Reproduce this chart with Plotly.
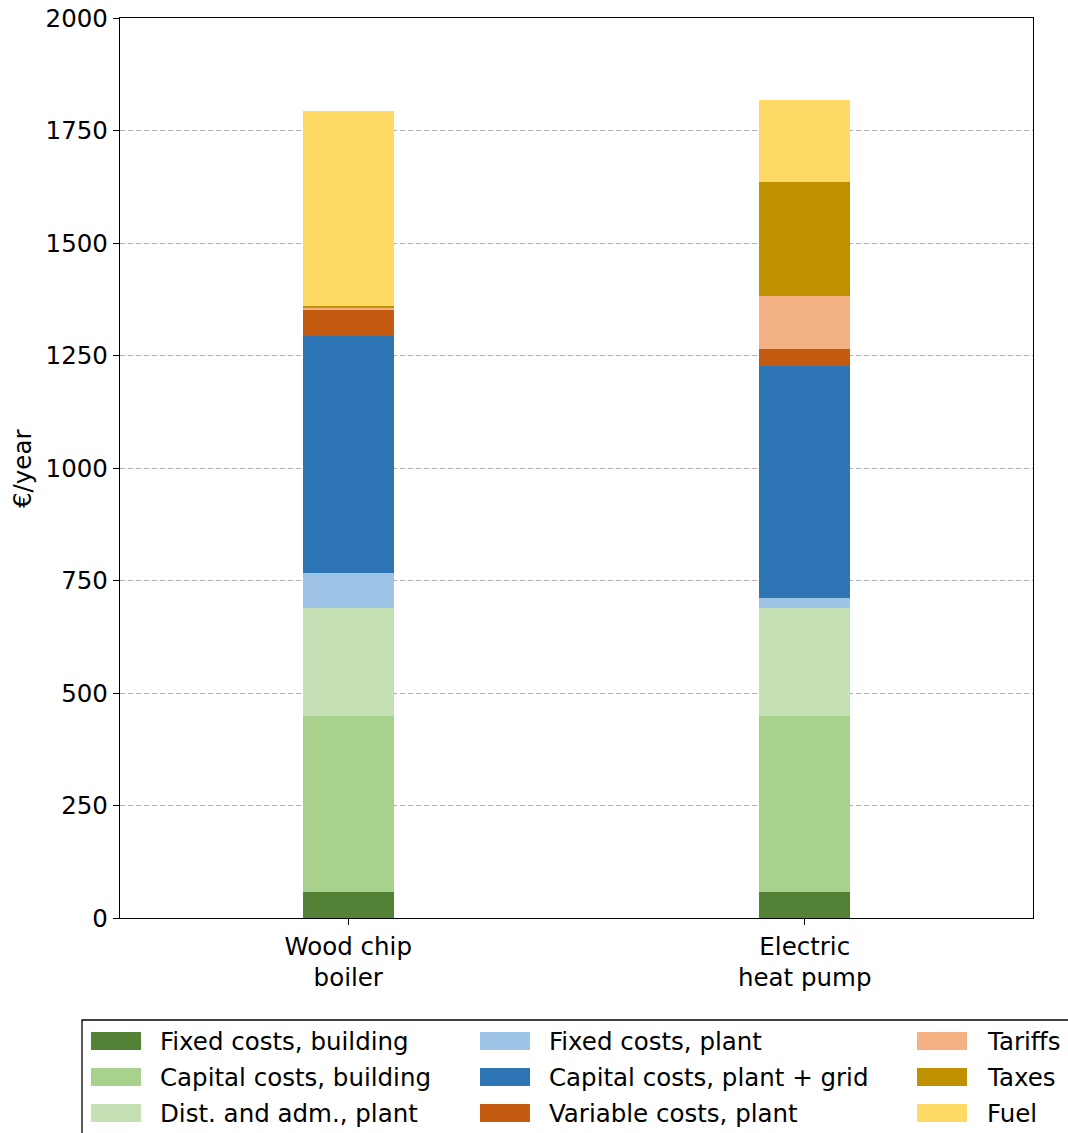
import plotly.graph_objects as go

categories = ["Wood chip<br>boiler", "Electric<br>heat pump"]

series_names = [
    "Fixed costs, building",
    "Capital costs, building",
    "Dist. and adm., plant",
    "Fixed costs, plant",
    "Capital costs, plant + grid",
    "Variable costs, plant",
    "Tariffs",
    "Taxes",
    "Fuel",
]
fixed_building = [58, 58]
capital_building = [391, 391]
dist_adm = [240, 240]
fixed_plant = [78, 22]
capital_plant = [527, 516]
variable_plant = [59, 37]
tariffs = [2, 118]
taxes = [5, 254]
fuel = [433, 182]
series_values = [fixed_building, capital_building, dist_adm, fixed_plant,
                 capital_plant, variable_plant, tariffs, taxes, fuel]
colors = ["#538135", "#a9d18e", "#c5e0b4", "#9dc3e6", "#2e75b6",
          "#c55a11", "#f4b183", "#bf9000", "#ffd966"]

y_ticks = [0, 250, 500, 750, 1000, 1250, 1500, 1750, 2000]

W, H = 1068, 1133
L, R, T, B = 120, 35, 18, 215
PW, PH = W - L - R, H - T - B
FONT = "DejaVu Sans"
FS = 24.5

fig = go.Figure()
for name, vals, col in zip(series_names, series_values, colors):
    fig.add_trace(go.Bar(x=[0, 1], y=vals, name=name, marker=dict(color=col, line=dict(width=0)),
                         width=0.2, showlegend=False))

fig.update_layout(
    barmode="stack",
    width=W, height=H,
    margin=dict(l=L, r=R, t=T, b=B, autoexpand=False),
    plot_bgcolor="white", paper_bgcolor="white",
    font=dict(family=FONT, size=FS, color="black"),
    xaxis=dict(range=[-0.5, 1.5], tickvals=[0, 1], ticktext=categories,
               showline=True, mirror=True, linecolor="black", linewidth=1.3,
               ticks="outside", ticklen=6, tickcolor="black", showgrid=False,
               zeroline=False, ticklabeloverflow="allow"),
    yaxis=dict(range=[0, 2000], tickvals=y_ticks,
               showline=True, mirror=True, linecolor="black", linewidth=1.3,
               ticks="outside", ticklen=6, tickcolor="black",
               showgrid=True, gridcolor="#b0b0b0", gridwidth=1, griddash="5px,3px",
               zeroline=False, ticklabeloverflow="allow"),
)

def px_x(x):
    return (x - L) / PW

def px_y(y):
    return (H - B - y) / PH

fig.add_annotation(x=px_x(23), y=px_y(469), xref="paper", yref="paper",
                   text="€/year", textangle=-90, showarrow=False,
                   xanchor="center", yanchor="middle",
                   font=dict(family=FONT, size=FS))

# legend box
fig.add_shape(type="rect", xref="paper", yref="paper",
              x0=px_x(82), x1=px_x(1090), y0=px_y(1020), y1=px_y(1150),
              line=dict(color="black", width=1.3), fillcolor="white", layer="below")

col_swatch_x = [91, 480, 917]
col_text_x = [158, 547, 985]
row_y = [1041, 1077, 1113]
legend_order = [[0, 1, 2], [3, 4, 5], [6, 7, 8]]
for c in range(3):
    for r in range(3):
        i = legend_order[c][r]
        fig.add_shape(type="rect", xref="paper", yref="paper",
                      x0=px_x(col_swatch_x[c]), x1=px_x(col_swatch_x[c] + 50),
                      y0=px_y(row_y[r] - 9), y1=px_y(row_y[r] + 9),
                      line=dict(width=0), fillcolor=colors[i])
        fig.add_annotation(x=px_x(col_text_x[c]), y=px_y(row_y[r]), xref="paper", yref="paper",
                           text=series_names[i], showarrow=False, xanchor="left", yanchor="middle",
                           font=dict(family=FONT, size=FS))

fig.write_html("out.html", config={"displayModeBar": False},
               post_script="document.body.style.margin='0';document.body.style.overflow='hidden';")
